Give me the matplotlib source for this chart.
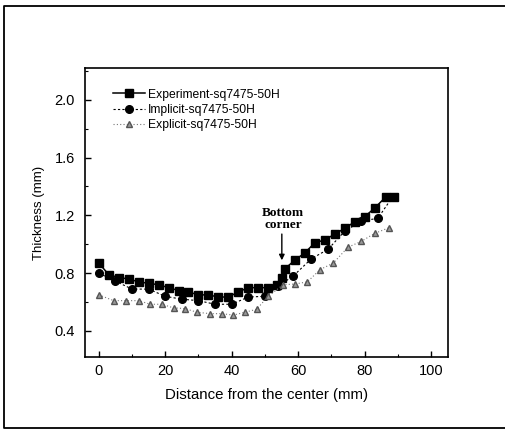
import matplotlib
matplotlib.use("Agg")
import matplotlib.pyplot as plt
from matplotlib.lines import Line2D
from matplotlib.ticker import MultipleLocator

# ==========================================
# DATA
# ==========================================
exp_x = [0, 3, 6, 9, 12, 15, 18, 21, 24, 27, 30, 33, 36, 39, 42, 45, 48, 51,
         53.5, 55, 56, 59, 62, 65, 68, 71, 74, 77, 80, 83, 86.5, 89]
exp_y = [0.87, 0.79, 0.77, 0.76, 0.74, 0.73, 0.72, 0.70, 0.68, 0.67, 0.65, 0.65,
         0.635, 0.635, 0.67, 0.70, 0.70, 0.70, 0.72, 0.77, 0.83, 0.89, 0.94,
         1.01, 1.03, 1.07, 1.11, 1.155, 1.19, 1.25, 1.33, 1.33]

imp_x = [0, 5, 10, 15, 20, 25, 30, 35, 40, 45, 50, 54, 58.5, 64, 69, 74, 79, 84, 88.5]
imp_y = [0.80, 0.745, 0.69, 0.69, 0.64, 0.62, 0.61, 0.585, 0.585, 0.635, 0.64,
         0.71, 0.78, 0.90, 0.965, 1.09, 1.16, 1.18, 1.33]

expl_x = [0, 4.5, 8.3, 12, 15.5, 19, 22.5, 26, 29.5, 33.5, 37, 40.5, 44, 47.5,
          51, 55.5, 59, 62.8, 66.6, 70.6, 75, 79, 83, 87.4]
expl_y = [0.65, 0.61, 0.61, 0.61, 0.585, 0.585, 0.56, 0.555, 0.53, 0.52, 0.52,
          0.51, 0.53, 0.55, 0.64, 0.72, 0.725, 0.74, 0.825, 0.87, 0.98, 1.02,
          1.075, 1.115]

labels = ["Experiment-sq7475-50H", "Implicit-sq7475-50H", "Explicit-sq7475-50H"]

plt.rcParams['font.family'] = ['Liberation Sans', 'DejaVu Sans']

fig = plt.figure(figsize=(5.05, 4.33), dpi=100)
ax = fig.add_axes([0.168, 0.1755, 0.719, 0.6675])

ax.plot(exp_x, exp_y, color='black', linestyle='-', linewidth=1.1,
        marker='s', markersize=5.5, label=labels[0])
ax.plot(imp_x, imp_y, color='black', linestyle=(0, (2, 2)), linewidth=0.8,
        marker='o', markersize=5.5, label=labels[1])
ax.plot(expl_x, expl_y, color='#777777', linestyle=(0, (1, 2)), linewidth=0.8,
        marker='^', markersize=5, markerfacecolor='#999999',
        markeredgecolor='#555555', label=labels[2])

# Bottom corner annotation
ax.annotate("", xy=(55.1, 0.87), xytext=(55.1, 1.09),
            arrowprops=dict(arrowstyle='-|>', color='black', lw=1.0,
                            mutation_scale=8))
ax.text(55.5, 1.175, "Bottom\ncorner", ha='center', va='center',
        fontsize=9.5, fontweight='bold', family='Liberation Serif',
        linespacing=1.0)

ax.set_xlim(-4.2, 105.1)
ax.set_ylim(0.22, 2.22)
ax.xaxis.set_major_locator(MultipleLocator(20))
ax.xaxis.set_minor_locator(MultipleLocator(10))
ax.yaxis.set_major_locator(MultipleLocator(0.4))
ax.yaxis.set_minor_locator(MultipleLocator(0.2))
ax.tick_params(which='both', direction='in', top=False, right=False, labelsize=10.5)
ax.tick_params(which='major', length=4, width=1)
ax.tick_params(which='minor', length=2.5, width=0.8)
ax.tick_params(axis='y', pad=7)
ax.tick_params(axis='x', pad=5)
ax.yaxis.set_major_formatter(plt.FuncFormatter(lambda v, p: f"{v:.1f}"))
for s in ax.spines.values():
    s.set_linewidth(1.2)

ax.set_xlabel("Distance from the center (mm)", fontsize=10.8, va='center')
ax.set_ylabel("Thickness (mm)", fontsize=9.5, va='center')
ax.xaxis.set_label_coords(0.5, -0.131)
ax.yaxis.set_label_coords(-0.125, 0.5)

ax.legend(loc='upper left', bbox_to_anchor=(0.065, 0.945), frameon=False,
          fontsize=8.7, handlelength=2.6, handletextpad=0.3, labelspacing=0.25,
          borderaxespad=0)

# outer frame (open on the right like the scanned page)
frame_x = [1.0, 0.008, 0.008, 1.0]
frame_y = [0.986, 0.986, 0.012, 0.012]
fig.add_artist(Line2D(frame_x, frame_y, transform=fig.transFigure,
                      color='black', linewidth=1.3))

fig.savefig("out.png", dpi=100)
